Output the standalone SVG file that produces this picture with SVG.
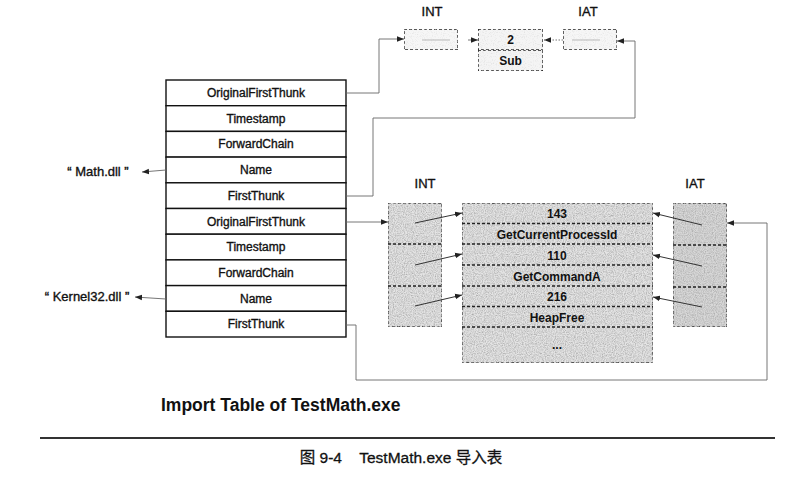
<svg xmlns="http://www.w3.org/2000/svg" width="789" height="481" viewBox="0 0 789 481">
<style>
text{font-family:"Liberation Sans",Arial,sans-serif;fill:#111;}
.t{font-size:12px;text-anchor:middle;stroke:#111;stroke-width:0.35;}
.l{font-size:13px;text-anchor:middle;stroke:#111;stroke-width:0.35;}
.b{font-size:12px;text-anchor:middle;font-weight:bold;}
.cell{fill:#fff;stroke:#111;stroke-width:1.4;}
.dash{fill:none;stroke:#222;stroke-width:1.4;stroke-dasharray:3 2;}
.con{fill:none;stroke:#666;stroke-width:0.9;}
.arr{fill:none;stroke:#333;stroke-width:1;marker-end:url(#ah);}
.faint{fill:none;stroke:#aaa;stroke-width:0.8;}
</style>
<defs>
<marker id="ah" viewBox="0 0 10 10" refX="10" refY="5" markerWidth="7" markerHeight="7" markerUnits="userSpaceOnUse" orient="auto">
<path d="M0,1 L10,5 L0,9 z" fill="#222"/>
</marker>
<filter id="grain" x="0" y="0" width="100%" height="100%">
<feTurbulence type="fractalNoise" baseFrequency="0.9" numOctaves="2" seed="4" result="n"/>
<feColorMatrix in="n" type="matrix" values="0 0 0 0 0.4 0 0 0 0 0.4 0 0 0 0 0.4 0 0 0 1.8 -0.6" result="g"/>
<feComposite in="g" in2="SourceGraphic" operator="in" result="gi"/>
<feMerge><feMergeNode in="SourceGraphic"/><feMergeNode in="gi"/></feMerge>
</filter>
<filter id="grainL" x="0" y="0" width="100%" height="100%">
<feTurbulence type="fractalNoise" baseFrequency="0.9" numOctaves="2" seed="7" result="n"/>
<feColorMatrix in="n" type="matrix" values="0 0 0 0 0.6 0 0 0 0 0.6 0 0 0 0 0.6 0 0 0 1.2 -0.6" result="g"/>
<feComposite in="g" in2="SourceGraphic" operator="in" result="gi"/>
<feMerge><feMergeNode in="SourceGraphic"/><feMergeNode in="gi"/></feMerge>
</filter>
</defs>

<g id="import-table">
<rect class="cell" x="166" y="80" width="180" height="25.7"/>
<rect class="cell" x="166" y="105.7" width="180" height="25.7"/>
<rect class="cell" x="166" y="131.4" width="180" height="25.7"/>
<rect class="cell" x="166" y="157.1" width="180" height="25.7"/>
<rect class="cell" x="166" y="182.8" width="180" height="25.7"/>
<rect class="cell" x="166" y="208.5" width="180" height="25.7"/>
<rect class="cell" x="166" y="234.2" width="180" height="25.7"/>
<rect class="cell" x="166" y="259.9" width="180" height="25.7"/>
<rect class="cell" x="166" y="285.6" width="180" height="25.7"/>
<rect class="cell" x="166" y="311.3" width="180" height="25.7"/>
<text class="t" x="256" y="97">OriginalFirstThunk</text>
<text class="t" x="256" y="122.7">Timestamp</text>
<text class="t" x="256" y="148.4">ForwardChain</text>
<text class="t" x="256" y="174.1">Name</text>
<text class="t" x="256" y="199.8">FirstThunk</text>
<text class="t" x="256" y="225.5">OriginalFirstThunk</text>
<text class="t" x="256" y="251.2">Timestamp</text>
<text class="t" x="256" y="276.9">ForwardChain</text>
<text class="t" x="256" y="302.6">Name</text>
<text class="t" x="256" y="328.3">FirstThunk</text>
</g>

<g id="dll-names">
<text class="l" x="98" y="176" xml:space="preserve">“ Math.dll ”</text>
<text class="l" x="87" y="301" xml:space="preserve">“ Kernel32.dll ”</text>
</g>

<g id="math-int">
<text class="l" x="432" y="16">INT</text>
<rect class="dash" x="404" y="29" width="54" height="21" style="fill:#f6f6f6" filter="url(#grainL)"/>
<line class="faint" x1="422" y1="40" x2="450" y2="40"/>
</g>
<g id="math-func">
<rect class="dash" x="478" y="29" width="65" height="21" style="fill:#f4f4f4" filter="url(#grainL)"/>
<rect class="dash" x="478" y="50" width="65" height="21" style="fill:#f4f4f4" filter="url(#grainL)"/>
<text class="b" x="510.5" y="44">2</text>
<text class="b" x="510.5" y="65">Sub</text>
</g>
<g id="math-iat">
<text class="l" x="588" y="16">IAT</text>
<rect class="dash" x="563" y="29" width="54" height="21" style="fill:#f6f6f6" filter="url(#grainL)"/>
<line class="faint" x1="572" y1="40" x2="600" y2="40"/>
</g>

<g id="kernel-int">
<text class="l" x="425" y="188">INT</text>
<rect class="dash" x="388" y="203" width="54" height="124" style="fill:#e4e4e4" filter="url(#grain)"/>
<line class="dash" x1="388" y1="244" x2="442" y2="244"/>
<line class="dash" x1="388" y1="286" x2="442" y2="286"/>
</g>
<g id="kernel-funcs">
<rect class="dash" x="462" y="203" width="191" height="160" style="fill:#e4e4e4" filter="url(#grain)"/>
<line class="dash" x1="462" y1="223.5" x2="653" y2="223.5"/>
<line class="dash" x1="462" y1="244" x2="653" y2="244"/>
<line class="dash" x1="462" y1="265" x2="653" y2="265"/>
<line class="dash" x1="462" y1="286" x2="653" y2="286"/>
<line class="dash" x1="462" y1="306.5" x2="653" y2="306.5"/>
<line class="dash" x1="462" y1="327" x2="653" y2="327"/>
<text class="b" x="557" y="218">143</text>
<text class="b" x="557" y="238.5">GetCurrentProcessId</text>
<text class="b" x="557" y="259.5">110</text>
<text class="b" x="557" y="280.5">GetCommandA</text>
<text class="b" x="557" y="301">216</text>
<text class="b" x="557" y="321.5">HeapFree</text>
<text class="b" x="557" y="349">...</text>
</g>
<g id="kernel-iat">
<text class="l" x="695" y="188">IAT</text>
<rect class="dash" x="673" y="203" width="54" height="124" style="fill:#d8d8d8" filter="url(#grain)"/>
<line class="dash" x1="673" y1="245" x2="727" y2="245"/>
<line class="dash" x1="673" y1="287" x2="727" y2="287"/>
</g>

<g id="connectors">
<path class="con" d="M346,93 H379 V39 H404" marker-end="url(#ah)"/>
<path class="con" d="M346,196 H373 V118 H635 V41 H617" marker-end="url(#ah)"/>
<path class="con" d="M468,40 H478" marker-end="url(#ah)"/>
<path class="con" d="M563,40 H544" stroke-dasharray="1.5 1.5" marker-end="url(#ah)"/>
<path class="con" d="M166,170 L142,172" marker-end="url(#ah)"/>
<path class="con" d="M166,299 L135,297" marker-end="url(#ah)"/>
<path class="con" d="M346,222 H388" marker-end="url(#ah)"/>
<path class="con" d="M346,325 H356 V380 H767 V223 H727" marker-end="url(#ah)"/>
<path class="arr" d="M415,223 L462,213"/>
<path class="arr" d="M415,265 L462,254"/>
<path class="arr" d="M415,306 L462,295"/>
<path class="arr" d="M702,225 L653,213"/>
<path class="arr" d="M702,266 L653,255"/>
<path class="arr" d="M702,307 L653,297"/>
</g>

<text x="161" y="411" style="font-size:17.5px;font-weight:bold">Import Table of TestMath.exe</text>
<line x1="40" y1="438" x2="775" y2="438" stroke="#333" stroke-width="1.8"/>
<text x="401" y="463" xml:space="preserve" style="font-size:15.5px;text-anchor:middle;stroke:#111;stroke-width:0.3;font-family:'Liberation Sans','Noto Sans CJK SC',sans-serif">图 9-4    TestMath.exe 导入表</text>
</svg>
